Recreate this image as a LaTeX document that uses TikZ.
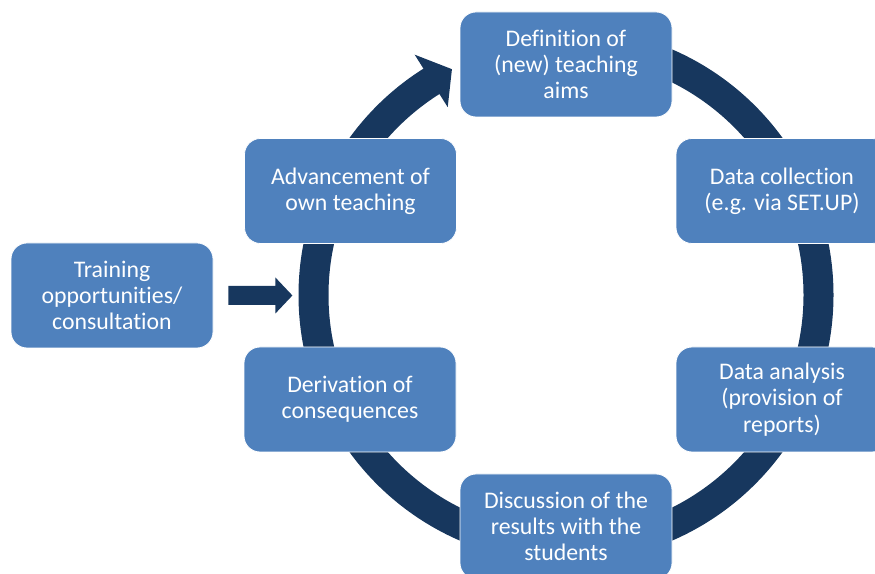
\documentclass[tikz,border=0pt]{standalone}
\usepackage{fontspec}
\setmainfont[Ligatures=NoCommon]{Carlito}
\usetikzlibrary{calc}
\definecolor{boxblue}{RGB}{79,129,189}
\definecolor{ringblue}{RGB}{23,55,94}
\begin{document}
\begin{tikzpicture}[x=1pt,y=1pt,
  stagebox/.style={rectangle, rounded corners=16pt, fill=boxblue, draw=white, line width=0.8pt,
    minimum width=212pt, minimum height=105pt, text=white, align=center,
    font=\fontsize{23.8}{26.2}\selectfont, inner sep=0pt},
  ringline/.style={draw=ringblue, line width=30pt}]
\useasboundingbox (0,0) rectangle (875,573);
\clip (0,0) rectangle (875,573);
\coordinate (c) at (566,278);
% cycle ring
\draw[ringline] ($(c)+(90:252.5)$) arc[start angle=90, end angle=-238, radius=252.5];
\fill[ringblue] ($(c)+(122.2:222)$) -- ($(c)+(116.8:253)$) -- ($(c)+(122.2:284)$) -- cycle;
% stages
\node[stagebox] (aims) at (566,508.5) {Definition of\\(new) teaching\\aims};
\node[stagebox] (coll) at (782,382) {Data collection\\(e.g. via SET.UP)};
\node[stagebox] (anal) at (782,173.5) {Data analysis\\(provision of\\reports)};
\node[stagebox] (disc) at (566,46.5) {Discussion of the\\results with the\\students};
\node[stagebox] (deriv) at (350,173.5) {Derivation of\\consequences};
\node[stagebox] (adv) at (350.5,382) {Advancement of\\own teaching};
\node[stagebox, minimum width=202pt] (train) at (112,277.5) {Training\\opportunities/\\consultation};
% arrow into the cycle
\coordinate (tipA) at ($(train.east)+(79,0)$);
\fill[ringblue] ($(train.east)+(15,9.5)$) -- ($(train.east)+(62,9.5)$) -- ($(train.east)+(62,18)$)
  -- (tipA) -- ($(train.east)+(62,-18)$) -- ($(train.east)+(62,-9.5)$) -- ($(train.east)+(15,-9.5)$) -- cycle;
\end{tikzpicture}
\end{document}
